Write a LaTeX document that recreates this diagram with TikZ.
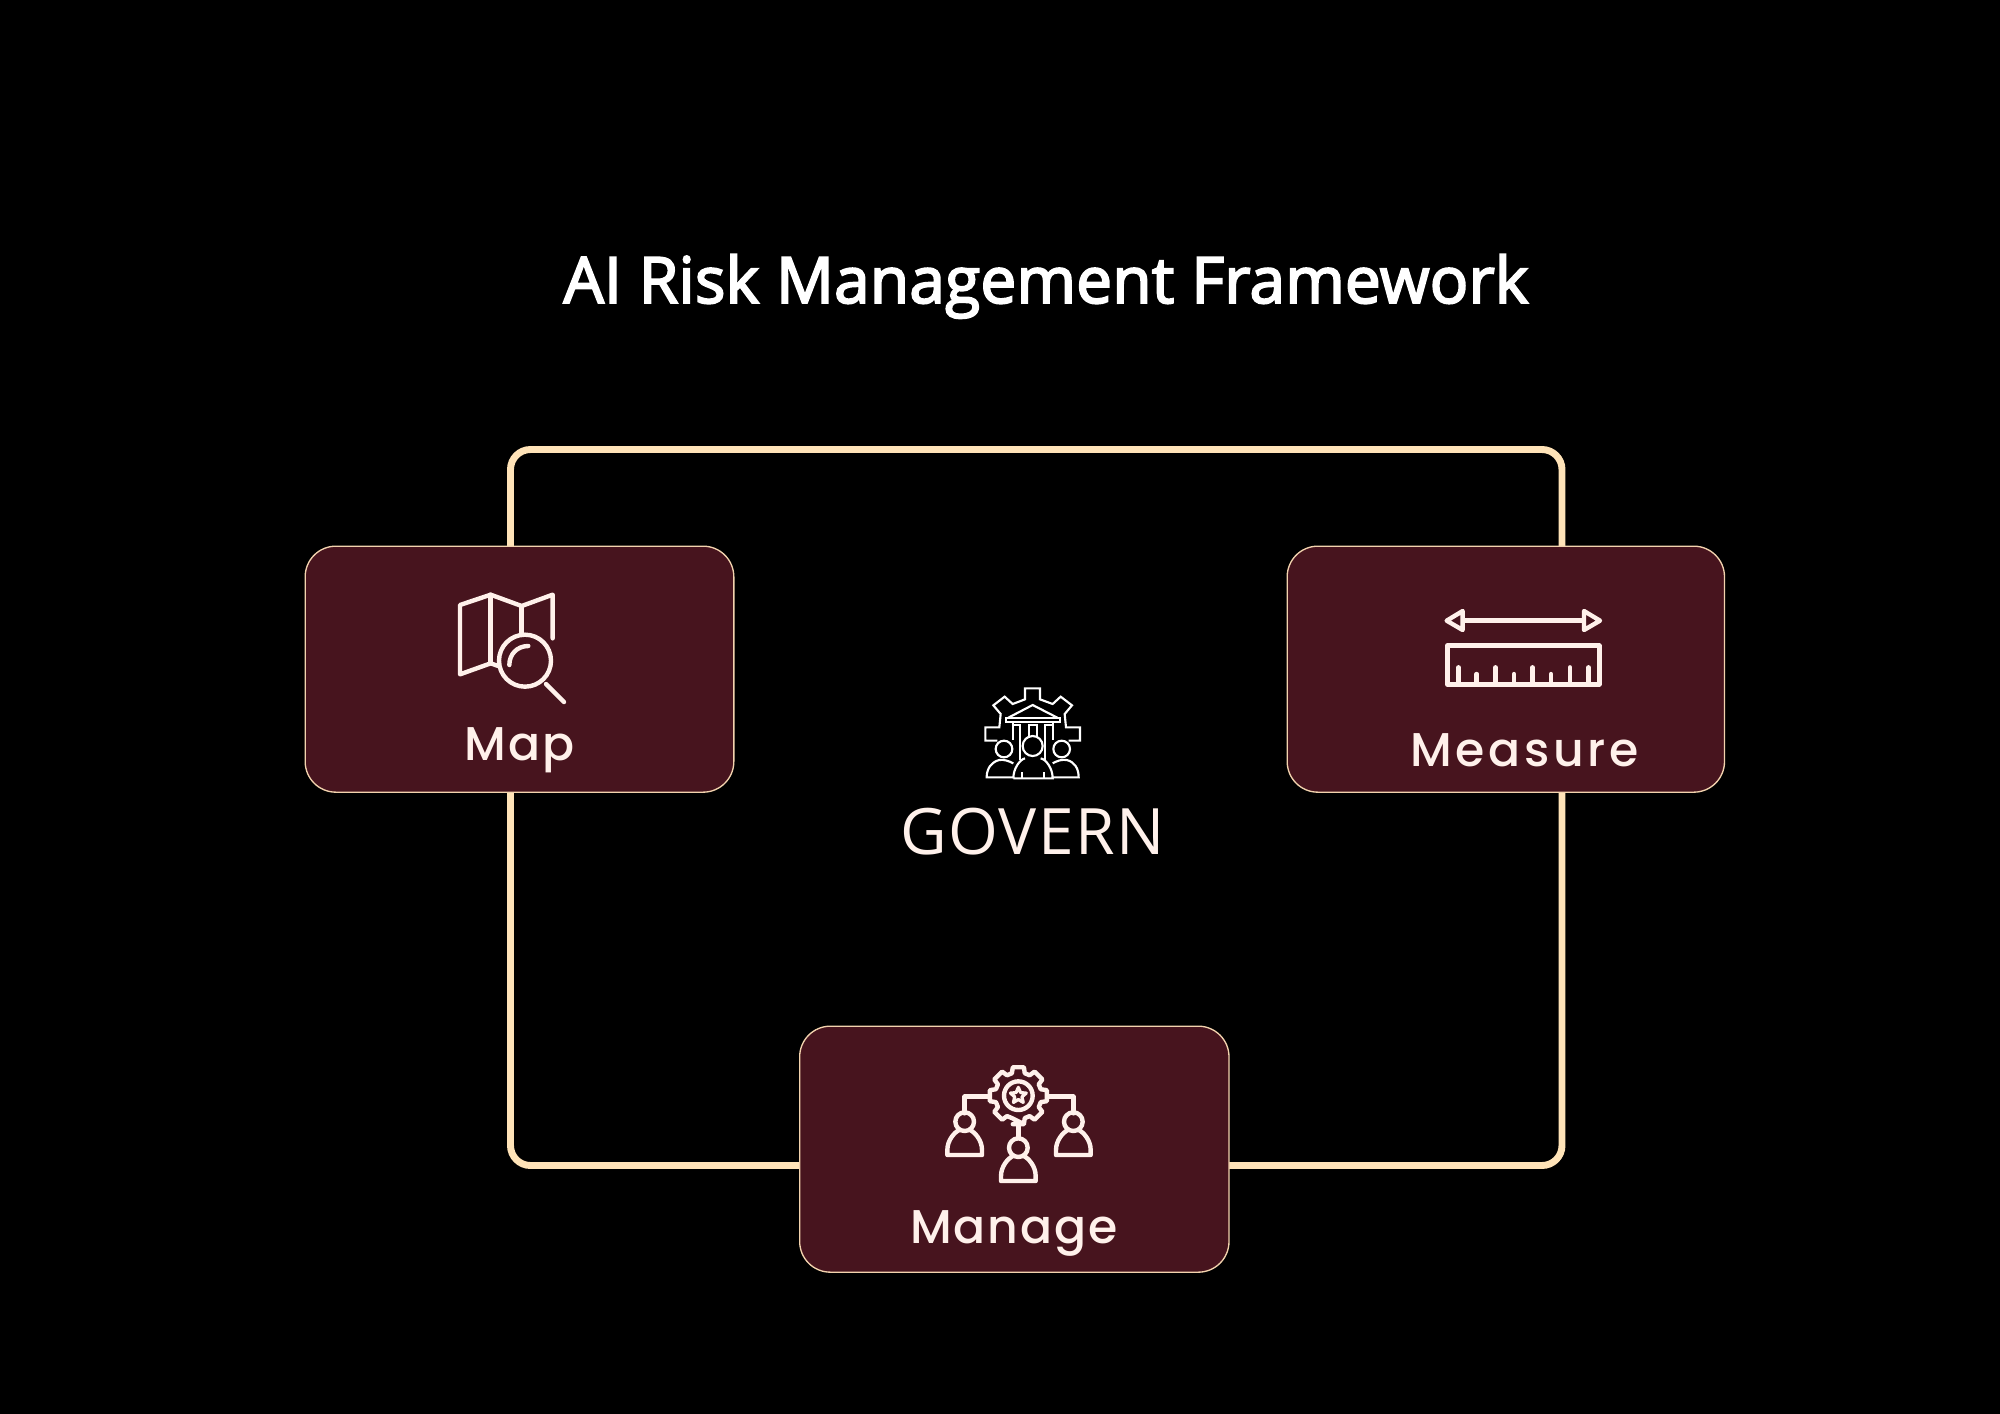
\documentclass[tikz,border=0pt]{standalone}
\usepackage{fontspec}
\setmainfont{Open Sans}[LetterSpace=2.4]
\newfontfamily\titlefont{Open Sans}[FakeBold=3,LetterSpace=0.3]
\newfontfamily\labelfont{Poppins Medium}[LetterSpace=4]
\newfontfamily\labelwide{Poppins Medium}[LetterSpace=7.7]
\definecolor{boxfill}{HTML}{47141E}
\definecolor{boxedge}{HTML}{F3D3AE}
\definecolor{framecol}{HTML}{FFE3B8}
\definecolor{inktext}{HTML}{FFF1EB}
\tikzset{
  cardbox/.style={draw=boxedge,line width=1pt,fill=boxfill,rounded corners=23pt,anchor=north west,inner sep=0pt},
  framebox/.style={draw=framecol,line width=5.2pt,rounded corners=15pt},
  iconline/.style={draw=inktext,line width=3.3pt,line join=round,line cap=round},
  thinicon/.style={draw=white,line width=1.6pt,line join=miter},
  cardlabel/.style={text=inktext,anchor=base,inner sep=0pt}
}
\begin{document}
\begin{tikzpicture}[x=0.75pt,y=-0.75pt]
\useasboundingbox[fill=black] (0,0) rectangle (2000,1414);
\node[text=white,anchor=base,inner sep=0pt] (title) at (1046,303) {\titlefont\fontsize{48}{58}\selectfont AI Risk Management Framework};
\coordinate (fa) at (510.5,449.5);
\coordinate (fb) at (1562,1165.5);
\draw[framebox] (fa) rectangle (fb);
\node[cardbox,minimum width=321.5pt,minimum height=184.5pt] (map) at (304.5,545.5) {};
\node[cardbox,minimum width=328pt,minimum height=184.5pt] (measure) at (1286.5,545.5) {};
\node[cardbox,minimum width=322pt,minimum height=184.5pt] (manage) at (799,1025.5) {};
\node[cardlabel] (maplabel) at (519.5,760.5) {\labelfont\fontsize{35.5}{40}\selectfont Map};
\node[cardlabel] (measurelabel) at (1524.5,766) {\labelwide\fontsize{35.5}{40}\selectfont Measure};
\node[cardlabel] (managelabel) at (1014,1243) {\labelfont\fontsize{35.5}{40}\selectfont Manage};
\node[text=inktext,anchor=base,inner sep=0pt] (govern) at (1032.5,854) {\fontsize{48}{58}\selectfont GOVERN};
% map icon
\begin{scope}[shift={(440,580)},x=0.25pt,y=-0.25pt]
\draw[iconline] (175,258) -- (152,250) -- (60,283) -- (60,75) -- (152,44) -- (245,78) -- (338,44) -- (338,175);
\draw[iconline] (152,44) -- (152,250);
\draw[iconline] (245,78) -- (245,165);
\draw[iconline] (255,242) circle[radius=78];
\draw[iconline] (318,312) -- (372,366);
\draw[iconline] (208,255) .. controls (208,222) and (232,198) .. (265,198);
\end{scope}
% measure icon
\begin{scope}[shift={(1270,530)},x=0.25pt,y=-0.25pt]
\draw[iconline] (580,272) -- (940,272);
\draw[iconline] (578,243) -- (530,272) -- (578,300) -- cycle;
\draw[iconline] (942,243) -- (990,272) -- (942,300) -- cycle;
\draw[iconline,line cap=butt] (532,347) rectangle (988,463);
\foreach \tx/\ty in {565/412,620/432,677/412,732/432,788/412,843/432,900/412,955/412}
  \draw[iconline] (\tx,463) -- (\tx,\ty);
\end{scope}
% manage icon
\begin{scope}[shift={(930,1050)},x=0.25pt,y=-0.25pt]
\begin{scope}[shift={(265,137)}]
\draw[iconline] (79:87) \foreach \a in {90,45,...,-225} { -- (\a+11:87) -- (\a-11:87) -- (\a-16:70) -- (\a-29:70) } -- cycle;
\draw[iconline] (0,0) circle[radius=43];
\draw[iconline,line width=2.4pt] (-90:25) \foreach \a in {-90,-18,54,126,198} { -- (\a:25) -- (\a+36:11.5) } -- cycle;
\end{scope}
\draw[iconline] (175,140) -- (104,140) -- (104,190);
\draw[iconline] (355,140) -- (430,140) -- (430,190);
\draw[iconline] (265,228) -- (265,264);
\foreach \cx/\cy in {104/215,430/215,265/293}{
  \draw[iconline] (\cx,\cy) circle[radius=28];
  \draw[iconline] (\cx-52,\cy+100) -- (\cx+52,\cy+100) -- (\cx+52,\cy+85) .. controls (\cx+52,\cy+55) and (\cx+30,\cy+32) .. (\cx+18,\cy+26)
     (\cx-18,\cy+26) .. controls (\cx-30,\cy+32) and (\cx-52,\cy+55) .. (\cx-52,\cy+85) -- (\cx-52,\cy+100);
}
\end{scope}
% govern icon
\begin{scope}[shift={(960,670)},x=0.25pt,y=-0.25pt]
\draw[thinicon] (112,212) -- (76,212) -- (76,172) -- (118,172) -- (122,132) -- (100,106) -- (134,80) -- (158,102) -- (195,88) -- (195,55) -- (240,55) -- (240,88) -- (278,102) -- (302,80) -- (336,106) -- (314,132) -- (318,172) -- (360,172) -- (360,212) -- (326,212);
\draw[thinicon] (145,143) -- (218,105) -- (292,143);
\draw[thinicon] (138,143) rectangle (300,157);
\draw[thinicon] (160,157) -- (160,210) (155,165) -- (180,165) -- (180,270);
\draw[thinicon] (207,205) -- (207,165) -- (230,165) -- (230,205);
\draw[thinicon] (255,270) -- (255,165) -- (280,165) -- (280,210) (280,165) -- (280,157);
\draw[thinicon] (132,237) circle[radius=25];
\draw[thinicon] (218,228) circle[radius=30];
\draw[thinicon] (305,237) circle[radius=25];
\draw[thinicon] (160,280) .. controls (145,272) and (130,268) .. (118,270) .. controls (95,275) and (80,295) .. (80,322) -- (160,322);
\draw[thinicon] (278,280) .. controls (292,272) and (305,268) .. (320,270) .. controls (343,275) and (356,295) .. (356,322) -- (278,322);
\draw[thinicon] (160,325) .. controls (160,295) and (180,268) .. (195,265) (242,265) .. controls (258,268) and (278,295) .. (278,325) -- (160,325);
\draw[thinicon] (185,325) -- (185,305) (252,325) -- (252,305);
\end{scope}
\end{tikzpicture}
\end{document}
